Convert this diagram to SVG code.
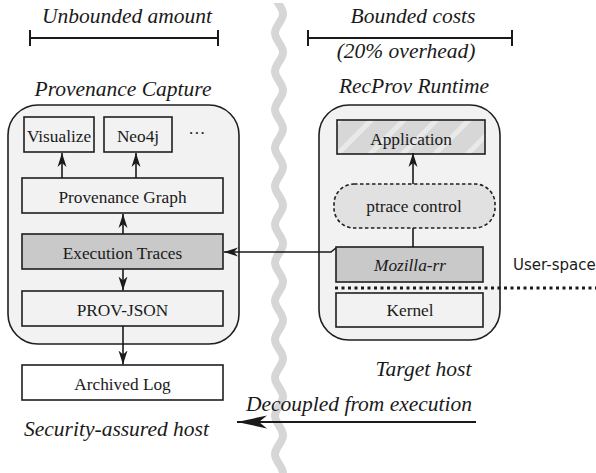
<svg xmlns="http://www.w3.org/2000/svg" width="596" height="473" viewBox="0 0 596 473">
<defs>
<style>
text{font-family:"Liberation Serif","Times New Roman",serif;fill:#1a1a1a;}
.t{font-size:17.3px;text-anchor:middle;}
.ti{font-size:21.5px;font-style:italic;text-anchor:middle;}
.box{stroke:#1f1f1f;stroke-width:1.6;fill:#f2f2f2;}
.cont{stroke:#1f1f1f;stroke-width:1.6;fill:#f2f2f2;}
.ln{stroke:#1a1a1a;stroke-width:1.6;fill:none;}
.bar{stroke:#1a1a1a;stroke-width:2;fill:none;}
</style>
<marker id="ah" markerUnits="userSpaceOnUse" markerWidth="16" markerHeight="12" refX="14" refY="6" orient="auto">
<path d="M0,1.5 L14,6 L0,10.5 L4,6 z" fill="#1a1a1a"/>
</marker>
<marker id="big" markerUnits="userSpaceOnUse" markerWidth="32" markerHeight="16" refX="30" refY="8" orient="auto">
<path d="M0,1.5 L30,8 L0,14.5 L8,8 z" fill="#1a1a1a"/>
</marker>
<pattern id="hatch" width="23" height="23" patternUnits="userSpaceOnUse" patternTransform="rotate(45)">
<rect width="23" height="23" fill="#d7d7d7"/>
<rect width="5" height="23" fill="#e9e9e9"/>
</pattern>
<clipPath id="wclip"><rect x="0" y="3" width="596" height="470"/></clipPath>
</defs>

<g id="divider" clip-path="url(#wclip)">
<path d="M275,-5.3 c0,6.9 8,12.25 8,19.15 s-8,12.25 -8,19.15 s8,12.25 8,19.15 s-8,12.25 -8,19.15 s8,12.25 8,19.15 s-8,12.25 -8,19.15 s8,12.25 8,19.15 s-8,12.25 -8,19.15 s8,12.25 8,19.15 s-8,12.25 -8,19.15 s8,12.25 8,19.15 s-8,12.25 -8,19.15 s8,12.25 8,19.15 s-8,12.25 -8,19.15 s8,12.25 8,19.15 s-8,12.25 -8,19.15 s8,12.25 8,19.15 s-8,12.25 -8,19.15 s8,12.25 8,19.15 s-8,12.25 -8,19.15 s8,12.25 8,19.15 s-8,12.25 -8,19.15 s8,12.25 8,19.15 s-8,12.25 -8,19.15 s8,12.25 8,19.15" fill="none" stroke="#d6d6d6" stroke-width="8"/>
</g>

<g id="scale-left">
<text class="ti" x="127" y="23">Unbounded amount</text>
<path class="bar" d="M30,38 H218 M30,30 V46 M218,30 V46"/>
</g>
<g id="scale-right">
<text class="ti" x="413" y="23">Bounded costs</text>
<path class="bar" d="M308,38 H512 M308,30 V46 M512,30 V46"/>
<text class="ti" x="406" y="58">(20% overhead)</text>
</g>

<g id="provenance-capture">
<text class="ti" x="123" y="96">Provenance Capture</text>
<rect class="cont" x="8" y="105" width="231" height="239" rx="30"/>
</g>
<g id="recprov-runtime">
<text class="ti" x="414" y="93">RecProv Runtime</text>
<rect class="cont" x="319" y="105" width="181" height="235" rx="30"/>
</g>

<g id="visualize"><rect class="box" x="24" y="117" width="70" height="35"/><text class="t" x="59" y="142">Visualize</text></g>
<g id="neo4j"><rect class="box" x="104" y="117" width="68" height="35"/><text class="t" x="138" y="142">Neo4j</text></g>
<g id="more"><text class="t" x="197" y="139">···</text></g>
<g id="provenance-graph"><rect class="box" x="22" y="178" width="201" height="35"/><text class="t" x="122.5" y="203">Provenance Graph</text></g>
<g id="execution-traces"><rect class="box" x="22" y="234" width="201" height="35" style="fill:#c9c9c9"/><text class="t" x="122.5" y="258.5">Execution Traces</text></g>
<g id="prov-json"><rect class="box" x="22" y="291" width="201" height="35"/><text class="t" x="122.5" y="316">PROV-JSON</text></g>
<g id="archived-log"><rect class="box" x="22" y="365" width="201" height="35" style="fill:#ffffff"/><text class="t" x="122.5" y="390">Archived Log</text></g>

<g id="application"><rect class="box" x="337" y="120" width="148" height="34" style="fill:url(#hatch)"/><text class="t" x="411" y="144.5">Application</text></g>
<g id="ptrace-control"><rect x="334" y="184" width="161" height="44" rx="20" fill="#e1e1e1" stroke="#1f1f1f" stroke-width="1.6" stroke-dasharray="3.5,2.5"/><text class="t" x="414" y="212">ptrace control</text></g>
<g id="mozilla-rr"><rect class="box" x="336" y="247" width="147" height="35" style="fill:#c9c9c9"/><text class="t" x="410" y="271" font-style="italic">Mozilla-rr</text></g>
<g id="kernel"><rect class="box" x="336" y="293" width="147" height="34"/><text class="t" x="410" y="316">Kernel</text></g>

<g id="user-space">
<line x1="335" y1="288" x2="596" y2="288" stroke="#1a1a1a" stroke-width="3" stroke-dasharray="3,3.5"/>
<text x="513" y="270" style="font-family:'DejaVu Sans',sans-serif;font-size:15px">User-space</text>
</g>

<g id="labels">
<text class="ti" x="423.5" y="376">Target host</text>
<text class="ti" x="116.5" y="436">Security-assured host</text>
<text class="ti" x="359" y="411">Decoupled from execution</text>
</g>

<g id="connectors">
<line class="ln" x1="62" y1="178" x2="62" y2="153" marker-end="url(#ah)"/>
<line class="ln" x1="136" y1="178" x2="136" y2="153" marker-end="url(#ah)"/>
<line class="ln" x1="123" y1="234" x2="123" y2="214" marker-end="url(#ah)"/>
<line class="ln" x1="123" y1="269" x2="123" y2="290.5" marker-end="url(#ah)"/>
<line class="ln" x1="123" y1="326" x2="123" y2="364.5" marker-end="url(#ah)"/>
<line class="ln" x1="413" y1="184" x2="413" y2="153" marker-end="url(#ah)"/>
<line class="ln" x1="413" y1="247" x2="413" y2="228"/>
<path class="ln" d="M336,248 L331,252 L224,252" marker-end="url(#ah)"/>
<line x1="476" y1="422" x2="237" y2="422" stroke="#1a1a1a" stroke-width="1.8" marker-end="url(#big)"/>
</g>
</svg>
